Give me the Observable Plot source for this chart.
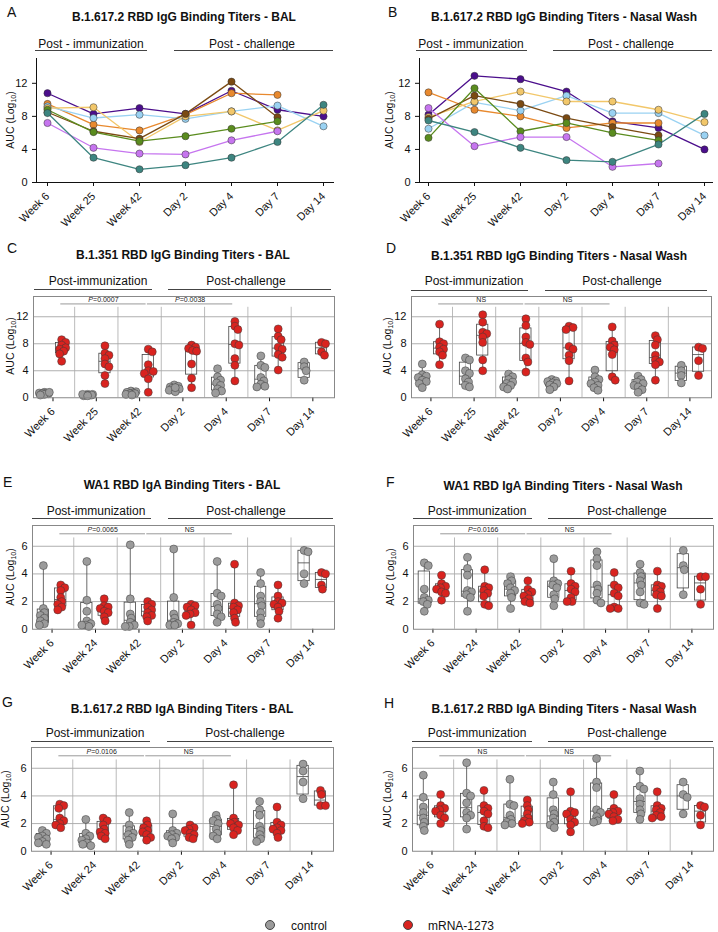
<!DOCTYPE html>
<html><head><meta charset="utf-8">
<script src="https://cdn.jsdelivr.net/npm/d3@7"></script>
<script src="https://cdn.jsdelivr.net/npm/@observablehq/plot@0.6"></script>
<style>
body{margin:0;background:#fff;font-family:"Liberation Sans",Arial,Helvetica,sans-serif;color:#111;}
#page{position:relative;width:718px;height:932px;overflow:hidden;background:#fff;}
.abs{position:absolute;white-space:nowrap;}
svg{overflow:visible;}
</style></head>
<body><div id="page"></div>
<script>
// ---------------- DATA ----------------
const weeksIgG = ["Week 6","Week 25","Week 42","Day 2","Day 4","Day 7","Day 14"];
const weeksIgA = ["Week 6","Week 24","Week 42","Day 2","Day 4","Day 7","Day 14"];
const groups = ["control","mRNA-1273"];
const groupColors = ["#9b9b9b","#d9231f"];

// Panels A & B: individual animals (mRNA-1273), B.1.617.2 IgG
const animals = ["NHP1","NHP2","NHP3","NHP4","NHP5","NHP6","NHP7","NHP8"];
const animalColors = ["#4b0e8c","#e8892e","#9ad2f2","#f2c76a","#7b4a12","#5a8c1e","#c675ef","#3d8580"];
const A_bal = [
  [10.8, 8.3, 9.0, 8.3, 11.1, 8.8, 8.0],
  [9.5, 7.0, 6.3, 8.2, 10.8, 10.6, null],
  [9.2, 7.8, 8.2, 7.7, 8.6, 9.3, 6.8],
  [9.0, 9.1, 4.9, 8.0, 8.6, 6.3, 8.7],
  [8.5, 6.2, 5.3, 8.3, 12.2, 7.9, null],
  [8.8, 6.1, 5.0, 5.6, 6.5, 7.4, null],
  [7.2, 4.2, 3.5, 3.4, 5.1, 6.2, null],
  [8.4, 3.0, 1.6, 2.1, 3.0, 4.9, 9.4]
];
const B_nasal = [
  [8.2, 12.9, 12.5, 11.0, 7.4, 6.6, 4.0],
  [10.9, 8.8, 8.0, 6.6, 7.2, 7.2, null],
  [6.5, 9.7, 8.7, 10.5, 8.4, 8.4, 5.7],
  [7.9, 9.8, 11.0, 9.8, 9.8, 8.8, 7.3],
  [7.7, 10.5, 9.5, 7.8, 6.7, 5.7, null],
  [5.4, 11.4, 6.2, 7.2, 6.0, 5.1, null],
  [9.0, 4.4, 5.5, 5.5, 1.9, 2.3, null],
  [7.5, 6.1, 4.2, 2.7, 2.5, 4.6, 8.3]
];

// Panel C: B.1.351 IgG BAL
const C_ctrl = [
  [0.8,0.7,0.7,0.6,0.6,0.5,0.8,0.4],
  [0.5,0.5,0.4,0.4,0.3,0.5,0.4,0.3],
  [1.0,0.9,0.8,0.7,0.6,0.5,0.6,0.4],
  [1.9,1.7,1.6,1.4,1.3,1.1,0.9,1.5],
  [4.3,3.1,2.6,2.2,1.8,1.3,1.0,0.7],
  [6.2,4.8,4.5,3.0,2.5,2.0,1.7,1.6],
  [5.3,4.6,4.0,2.6]
];
const C_vac = [
  [8.6,8.2,7.8,7.4,7.2,6.9,6.5,5.4],
  [7.7,6.6,6.3,5.8,5.0,4.6,3.3,2.1],
  [7.2,6.8,4.9,4.0,3.9,3.6,2.8,0.8],
  [7.8,7.5,7.3,7.0,6.9,5.0,2.9,1.5],
  [11.3,10.6,10.1,8.0,7.8,5.8,4.8,2.5],
  [10.2,9.1,8.6,7.5,7.2,6.4,6.0,4.1],
  [8.2,8.0,6.8,6.3]
];
// Panel D: B.1.351 IgG Nasal Wash
const D_ctrl = [
  [5.0,3.4,3.2,3.0,2.6,2.4,2.1,1.5],
  [5.9,5.6,4.0,3.6,2.8,2.3,1.8,1.6],
  [3.5,3.1,2.7,2.3,2.1,1.8,1.6,1.3],
  [2.7,2.5,2.4,2.2,2.1,1.9,1.6,1.2],
  [4.1,3.1,2.7,2.3,2.1,1.8,1.5,1.1],
  [3.2,2.7,2.3,2.1,1.8,1.6,1.2,0.8],
  [4.8,4.0,3.3,2.2]
];
const D_vac = [
  [10.9,8.3,8.0,7.5,7.2,6.8,6.3,4.9],
  [12.3,11.2,9.7,9.5,9.0,8.2,5.6,4.0],
  [11.7,10.7,9.0,8.2,7.9,5.9,5.3,3.8],
  [10.6,10.4,10.1,7.6,7.2,6.3,5.5,2.5],
  [10.5,8.4,7.8,7.5,7.1,6.4,3.1,2.6],
  [9.2,8.6,7.8,6.3,5.6,5.3,4.9,2.6],
  [7.5,7.3,5.5,3.3]
];
// Panel E: WA1 IgA BAL
const E_ctrl = [
  [4.6,1.5,1.2,1.0,0.8,0.6,0.4,0.3],
  [4.9,2.1,1.3,0.6,0.4,0.3,0.2,0.3],
  [6.1,2.2,1.1,0.8,0.5,0.3,0.2,0.2],
  [5.8,2.3,1.1,0.8,0.5,0.4,0.3,0.3],
  [4.9,2.6,2.4,1.8,1.5,1.1,0.9,0.5],
  [4.1,3.3,2.4,2.0,1.7,1.2,0.8,0.4],
  [5.7,5.6,4.0,3.3]
];
const E_vac = [
  [3.2,3.0,2.8,2.3,2.0,1.8,1.6,1.4],
  [2.2,1.7,1.6,1.5,1.3,1.2,0.9,0.6],
  [2.0,1.8,1.6,1.4,1.2,1.0,0.9,0.6],
  [1.8,1.7,1.6,1.4,1.2,1.1,1.0,0.3],
  [4.7,1.9,1.7,1.6,1.4,1.2,0.8,0.5],
  [3.2,2.4,2.0,1.9,1.8,1.6,1.3,0.8],
  [4.1,4.0,3.2,2.9]
];
// Panel F: WA1 IgA Nasal Wash
const F_ctrl = [
  [4.8,4.6,2.9,2.3,2.1,2.0,1.8,1.3],
  [5.2,4.4,3.9,2.8,2.7,2.5,2.3,1.3],
  [3.8,3.5,3.3,3.0,2.8,2.6,2.3,1.5],
  [5.1,3.5,3.3,3.2,3.0,2.5,2.2,1.7],
  [5.6,5.1,4.6,3.2,2.9,2.6,2.1,1.9],
  [4.7,4.1,3.8,3.5,3.2,2.7,1.9,1.8],
  [5.7,4.6,4.3,2.5]
];
const F_vac = [
  [3.9,3.3,3.1,3.0,2.9,2.7,2.6,2.1],
  [4.3,3.1,3.0,2.8,2.6,2.4,1.8,1.7],
  [3.5,2.9,2.7,2.5,2.4,2.2,2.0,1.9],
  [4.2,3.3,3.1,2.9,2.7,2.3,2.0,2.0],
  [4.1,3.2,3.0,2.6,2.4,1.6,1.5,1.5],
  [4.2,3.2,3.1,2.9,2.7,2.5,2.4,1.5],
  [3.8,3.8,2.9,1.8]
];
// Panel G: B.1.617.2 IgA BAL
const G_ctrl = [
  [1.5,1.3,1.1,1.0,0.9,0.7,0.6,0.5],
  [2.3,1.3,1.1,0.9,0.8,0.6,0.5,0.4],
  [2.8,1.9,1.5,1.3,1.2,1.0,0.8,0.5],
  [2.7,1.5,1.3,1.2,1.1,1.0,0.9,0.6],
  [2.6,2.3,2.2,2.0,1.6,1.3,1.1,0.9],
  [3.6,3.0,2.6,1.8,1.5,1.2,0.9,0.7],
  [6.3,5.8,5.0,3.8]
];
const G_vac = [
  [3.4,3.3,3.1,2.4,2.2,2.0,1.9,1.7],
  [2.4,2.2,1.9,1.6,1.4,1.3,1.1,0.9],
  [2.2,1.9,1.7,1.5,1.4,1.2,1.0,0.8],
  [1.9,1.7,1.6,1.5,1.3,1.2,1.0,0.9],
  [4.8,2.4,2.1,2.0,1.9,1.7,1.5,1.2],
  [3.2,2.1,1.9,1.7,1.6,1.5,1.3,1.0],
  [4.4,4.1,3.3,3.3]
];
// Panel H: B.1.617.2 IgA Nasal Wash
const H_ctrl = [
  [5.5,3.9,3.2,2.8,2.4,2.1,1.8,1.5],
  [6.4,4.2,4.0,3.5,2.8,2.6,2.4,1.6],
  [5.2,3.4,3.3,2.6,2.3,2.1,2.0,1.9],
  [5.0,4.1,3.0,2.7,2.4,2.1,1.9,1.7],
  [6.7,5.0,4.6,3.0,2.8,2.5,2.2,2.1],
  [5.8,4.7,4.5,3.8,3.4,3.0,2.7,2.3],
  [5.0,4.1,3.9,2.7]
];
const H_vac = [
  [4.1,3.3,3.1,3.0,2.9,2.6,2.4,2.0],
  [4.4,3.3,3.1,2.9,2.7,2.2,1.8,1.7],
  [3.7,3.3,3.0,2.7,2.4,2.2,2.1,2.0],
  [4.3,2.9,2.8,2.7,2.3,2.1,1.9,1.4],
  [4.1,3.1,2.9,2.8,2.7,2.5,2.3,2.2],
  [4.3,3.3,3.1,3.0,2.8,2.6,2.5,2.4],
  [3.3,3.2,2.6,1.9]
];

// Significance comparisons (timepoint indices)
const sigC = [{from:0,to:2,p:"P",rest:"=0.0007"},{from:2,to:4,p:"P",rest:"=0.0038"}];
const sigD = [{from:0,to:2,rest:"NS"},{from:2,to:4,rest:"NS"}];
const sigE = [{from:0,to:2,p:"P",rest:"=0.0065"},{from:2,to:4,rest:"NS"}];
const sigF = [{from:0,to:2,p:"P",rest:"=0.0166"},{from:2,to:4,rest:"NS"}];
const sigG = [{from:0,to:2,p:"P",rest:"=0.0106"},{from:2,to:4,rest:"NS"}];
const sigH = [{from:0,to:2,rest:"NS"},{from:2,to:4,rest:"NS"}];

const titles = [
  "B.1.617.2 RBD IgG Binding Titers - BAL",
  "B.1.617.2 RBD IgG Binding Titers - Nasal Wash",
  "B.1.351 RBD IgG Binding Titers - BAL",
  "B.1.351 RBD IgG Binding Titers - Nasal Wash",
  "WA1 RBD IgA Binding Titers - BAL",
  "WA1 RBD IgA Binding Titers - Nasal Wash",
  "B.1.617.2 RBD IgA Binding Titers - BAL",
  "B.1.617.2 RBD IgA Binding Titers - Nasal Wash"
];
const letters = ["A","B","C","D","E","F","G","H"];

// ---------------- HELPERS ----------------
const FONT = '"Liberation Sans", Arial, Helvetica, sans-serif';
const page = document.getElementById("page");

function addText(str, x, baseline, size, opts = {}) {
  const d = document.createElement("div");
  d.className = "abs";
  d.style.left = x + "px";
  d.style.top = (baseline - 0.8465 * size) + "px";
  d.style.fontSize = size + "px";
  d.style.lineHeight = size + "px";
  if (opts.bold) d.style.fontWeight = "bold";
  if (opts.anchor === "middle") d.style.transform = "translateX(-50%)";
  d.textContent = str;
  page.appendChild(d);
}
function addLine(x1, x2, y, color = "#444", w = 1.5) {
  const d = document.createElement("div");
  d.className = "abs";
  d.style.left = x1 + "px";
  d.style.top = (y - w / 2) + "px";
  d.style.width = (x2 - x1) + "px";
  d.style.height = "0px";
  d.style.borderTop = w + "px solid " + color;
  page.appendChild(d);
}
function addYLabel(cx, cy) {
  const d = document.createElement("div");
  d.className = "abs";
  d.style.left = cx + "px";
  d.style.top = cy + "px";
  d.style.fontSize = "10.5px";
  d.style.lineHeight = "11px";
  d.style.transform = "translate(-50%,-50%) rotate(-90deg)";
  d.innerHTML = 'AUC (Log<sub style="font-size:7px;vertical-align:-2px">10</sub>)';
  page.appendChild(d);
}
function place(svg, left, top) {
  svg.style.position = "absolute";
  svg.style.left = left + "px";
  svg.style.top = top + "px";
  page.appendChild(svg);
}
// Prism-style quartiles
function quant(sorted, p) {
  const n = sorted.length;
  let pos = p * (n + 1);
  if (pos < 1) pos = 1;
  if (pos > n) pos = n;
  const lo = Math.floor(pos), f = pos - lo;
  if (lo >= n) return sorted[n - 1];
  return sorted[lo - 1] + f * (sorted[lo] - sorted[lo - 1]);
}
// compact beeswarm offsets (pixels)
function swarm(vals, pxY, minDist, maxOff) {
  const idx = vals.map((_, i) => i).sort((a, b) => vals[b] - vals[a]);
  const placed = [], out = [];
  const cands = [0];
  for (let k = 1; k <= maxOff; k++) cands.push(k, -k);
  for (const i of idx) {
    const y = vals[i] * pxY;
    let best = 0, bestD = -1;
    for (const c of cands) {
      let d = Infinity;
      for (const p of placed) d = Math.min(d, Math.hypot(p.x - c, p.y - y));
      if (d >= minDist) { best = c; break; }
      if (d > bestD) { bestD = d; best = c; }
    }
    placed.push({x: best, y});
    out[i] = best;
  }
  return out;
}

const STYLE = {fontFamily: FONT, fontSize: "11px", color: "#111", background: "transparent", overflow: "visible"};

// ---------------- LINE PANELS ----------------
function linePanel(values, ml, mr, pad) {
  const rows = [];
  values.forEach((arr, a) => arr.forEach((v, t) => {
    if (v != null) rows.push({animal: animals[a], time: weeksIgG[t], value: v});
  }));
  return Plot.plot({
    width: 359, height: 170, marginLeft: ml, marginRight: mr, marginTop: 8, marginBottom: 38,
    style: STYLE,
    x: {type: "point", domain: weeksIgG, padding: pad, tickRotate: -45, tickSize: 4, label: null, line: true},
    y: {domain: [0, 15], ticks: [0, 4, 8, 12], tickSize: 4, label: null, line: true},
    color: {domain: animals, range: animalColors},
    marks: [
      Plot.line(rows, {x: "time", y: "value", z: "animal", stroke: "animal", strokeWidth: 1.3}),
      Plot.dot(rows, {x: "time", y: "value", fill: "animal", r: 3.6, stroke: "#333", strokeWidth: 0.5})
    ]
  });
}

// ---------------- BOX PANELS ----------------
function boxPanel(ctrl, vac, labels, cfg) {
  const W = 359, mt = 8, mb = 48;
  const xDom = [-0.45, 6.5];
  const unitPx = (W - cfg.ml - cfg.mr) / (xDom[1] - xDom[0]);
  const pxY = cfg.plotH / cfg.yMax;
  const points = [], boxes = [];
  [ctrl, vac].forEach((series, g) => {
    const base = g === 0 ? -0.2 : 0.2;
    series.forEach((vals, t) => {
      const offs = swarm(vals, pxY, 4.2, 5);
      vals.forEach((v, i) => points.push({x: t + base + offs[i] / unitPx, y: v, group: groups[g]}));
      const s = vals.slice().sort((a, b) => a - b);
      boxes.push({x: t + base, group: groups[g], min: s[0], max: s[s.length - 1],
        q1: quant(s, 0.25), med: quant(s, 0.5), q3: quant(s, 0.75)});
    });
  });
  const hw = 0.13;
  const sig = cfg.sig.map(d => ({...d, x1: d.from + 0.18, x2: d.to + 0.15, mid: (d.from + 0.18 + d.to + 0.15) / 2}));
  const gridTicks = cfg.yTicks.filter(t => t > 0);
  const seps = d3.range(6).map(i => i + 0.5);
  return Plot.plot({
    width: W, height: mt + cfg.plotH + mb, marginLeft: cfg.ml, marginRight: cfg.mr, marginTop: mt, marginBottom: mb,
    style: STYLE,
    x: {domain: xDom, ticks: d3.range(7), tickFormat: i => labels[i], tickRotate: -45, tickSize: 4, label: null},
    y: {domain: [0, cfg.yMax], ticks: cfg.yTicks, tickSize: 0, tickPadding: 5, label: null},
    color: {domain: groups, range: groupColors},
    marks: [
      Plot.ruleY(gridTicks, {stroke: "#9a9a9a", strokeWidth: 0.8}),
      Plot.ruleX(seps, {y1: 0, y2: cfg.sepTop, stroke: "#aaa", strokeWidth: 0.8}),
      Plot.ruleY(sig, {y: () => cfg.sigY, x1: "x1", x2: "x2", stroke: "#999", strokeWidth: 1}),
      Plot.text(sig.filter(d => d.p), {x: "mid", y: () => cfg.sigY, text: "p", dx: -15.1, dy: -1.5, textAnchor: "start", lineAnchor: "bottom", fontStyle: "italic", fontSize: 7, fill: "#222"}),
      Plot.text(sig.filter(d => d.p), {x: "mid", y: () => cfg.sigY, text: "rest", dx: -10.4, dy: -1.5, textAnchor: "start", lineAnchor: "bottom", fontSize: 7, fill: "#222"}),
      Plot.text(sig.filter(d => !d.p), {x: "mid", y: () => cfg.sigY, text: "rest", dy: -1.5, lineAnchor: "bottom", fontSize: 7, fill: "#222"}),
      Plot.ruleX(boxes, {x: "x", y1: "min", y2: "max", stroke: "#444", strokeWidth: 0.8}),
      Plot.rect(boxes, {x1: d => d.x - hw, x2: d => d.x + hw, y1: "q1", y2: "q3", fill: "white", fillOpacity: 0.6, stroke: "#444", strokeWidth: 0.8}),
      Plot.ruleY(boxes, {y: "med", x1: d => d.x - hw, x2: d => d.x + hw, stroke: "#444", strokeWidth: 0.8}),
      Plot.dot(points, {x: "x", y: "y", r: 4, fill: "group", stroke: "#3a3a3a", strokeWidth: 0.5}),
      Plot.frame({stroke: "#888", strokeWidth: 1})
    ]
  });
}

// ---------------- BUILD ----------------
place(linePanel(A_bal, 36, 26, 0.17), 0, 50);
place(linePanel(B_nasal, 60, 6, 0.13), 359, 50);

const igG = {yMax: 15, yTicks: [0, 4, 8, 12], plotH: 101.25, sigY: 13.9, sepTop: 13.4};
const igA = {yMax: 7.5, yTicks: [0, 2, 4, 6], plotH: 103.75, sigY: 6.9, sepTop: 6.6};

place(boxPanel(C_ctrl, C_vac, weeksIgG, {...igG, ml: 33, mr: 25, sig: sigC}), 0, 288);
place(boxPanel(D_ctrl, D_vac, weeksIgG, {...igG, ml: 52, mr: 7, sig: sigD}), 359, 288);
place(boxPanel(E_ctrl, E_vac, weeksIgA, {...igA, ml: 32, mr: 25, sig: sigE}), 0, 517);
place(boxPanel(F_ctrl, F_vac, weeksIgA, {...igA, ml: 54, mr: 5, sig: sigF}), 359, 517);
place(boxPanel(G_ctrl, G_vac, weeksIgA, {...igA, ml: 31, mr: 26, sig: sigG}), 0, 739);
place(boxPanel(H_ctrl, H_vac, weeksIgA, {...igA, ml: 53, mr: 5, sig: sigH}), 359, 739);

// annotations layout: letter [x, baseline], title [center, baseline], headers [textCenter, baseline, x1, x2, lineY], y-label [cx, cy]
const layout = [
  {letter:[7,17], title:[184,21], imm:[91,48,35,147,51], chal:[252,48,174,333,51], ylab:[12,120]},
  {letter:[388,17], title:[564,21], imm:[471,48,416,527,51], chal:[631,48,553,712,51], ylab:[391,120]},
  {letter:[7,253], title:[183,259], imm:[98,285,34,152,290], chal:[246,285,168,331,290], ylab:[12,346]},
  {letter:[386,253], title:[559,260], imm:[474,285,411,528,290.5], chal:[622,285,545,707,290.5], ylab:[389,346]},
  {letter:[3,487], title:[182,489], imm:[96,515,32,151,519], chal:[246,515,168,333,519], ylab:[12,577]},
  {letter:[386,487], title:[563,490], imm:[477,515,413,532,519], chal:[627,515,548,713,519], ylab:[392,577]},
  {letter:[2,707], title:[182,713], imm:[95,737,31,150,742], chal:[245,737,167,332,742], ylab:[7,799]},
  {letter:[384,708], title:[564,713], imm:[477,737,412,532,742], chal:[627,737,548,713,742], ylab:[389,799]}
];
layout.forEach((L, i) => {
  addText(letters[i], L.letter[0], L.letter[1], 14);
  addText(titles[i], L.title[0], L.title[1], 12, {bold: true, anchor: "middle"});
  const immTxt = i < 2 ? "Post - immunization" : "Post-immunization";
  const chalTxt = i < 2 ? "Post - challenge" : "Post-challenge";
  addText(immTxt, L.imm[0], L.imm[1], 12, {anchor: "middle"});
  addLine(L.imm[2], L.imm[3], L.imm[4]);
  addText(chalTxt, L.chal[0], L.chal[1], 12, {anchor: "middle"});
  addLine(L.chal[2], L.chal[3], L.chal[4]);
  addYLabel(L.ylab[0], L.ylab[1]);
});

// legend
const legendPos = [[270, 291], [408, 428]];
groups.forEach((g, i) => {
  const dot = document.createElement("div");
  dot.className = "abs";
  dot.style.left = (legendPos[i][0] - 5) + "px";
  dot.style.top = (925 - 5) + "px";
  dot.style.width = "10px"; dot.style.height = "10px";
  dot.style.borderRadius = "50%";
  dot.style.background = groupColors[i];
  dot.style.boxSizing = "border-box";
  dot.style.border = "0.6px solid #444";
  page.appendChild(dot);
  addText(g, legendPos[i][1], 930, 12);
});
</script>
</body></html>
